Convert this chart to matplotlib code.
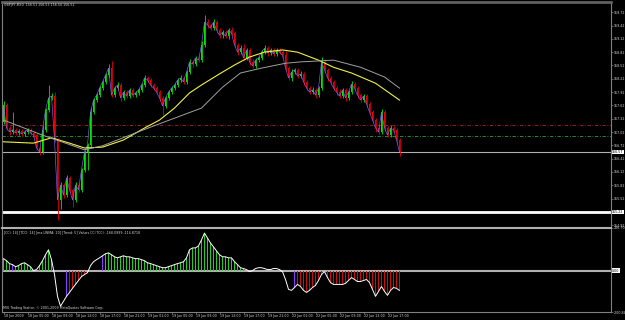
import numpy as np
import matplotlib.pyplot as plt
import matplotlib.transforms as mtransforms

# --- chart data (GBPJPY M30) ---
first_open = 157.25
closes = [
    157.63, 157.11, 157.02, 157.07, 157.00, 157.04, 156.98, 157.02, 157.07, 157.00,
    156.95, 156.66, 156.57, 157.07, 157.52, 157.79, 157.83, 156.84, 155.49, 155.83,
    155.60, 155.99, 155.72, 155.49, 155.83, 155.72, 156.17, 156.57, 156.73, 157.47,
    157.74, 157.85, 158.01, 158.15, 158.30, 158.46, 157.85, 158.01, 158.08, 157.79,
    157.92, 157.83, 157.97, 157.85, 157.90, 157.97, 158.08, 158.24, 158.19, 158.08,
    158.01, 157.92, 157.79, 157.61, 157.79, 157.92, 158.01, 158.08, 158.19, 158.24,
    158.15, 158.37, 158.60, 158.55, 158.69, 158.64, 158.98, 159.50, 159.43, 159.36,
    159.50, 159.32, 159.20, 159.27, 159.18, 159.32, 159.25, 158.98, 158.82, 158.91,
    158.69, 158.87, 158.60, 158.51, 158.64, 158.69, 158.82, 158.91, 158.80, 158.87,
    158.78, 158.87, 158.82, 158.75, 158.46, 158.24, 158.37, 158.42, 158.28, 158.33,
    158.15, 158.01, 157.92, 157.97, 157.85, 158.01, 158.60, 158.42, 158.24, 158.15,
    158.01, 157.92, 157.83, 157.97, 157.79, 157.92, 158.10, 158.01, 157.85, 157.74,
    157.83, 157.65, 157.47, 157.29, 157.11, 157.02, 157.47, 157.11, 156.95, 157.11,
    157.07, 156.84, 156.57,
]
wick_up = [
    0.08, 0.05, 0.04, 0.40, 0.05, 0.04, 0.05, 0.04, 0.05, 0.04,
    0.04, 0.05, 0.04, 0.10, 0.05, 0.30, 0.06, 0.10, 0.05, 0.06,
    0.05, 0.06, 0.05, 0.05, 0.06, 0.05, 0.05, 0.04, 0.05, 0.10,
    0.05, 0.04, 0.05, 0.04, 0.05, 0.10, 0.15, 0.05, 0.06, 0.05,
    0.04, 0.05, 0.05, 0.04, 0.05, 0.04, 0.05, 0.06, 0.05, 0.04,
    0.05, 0.04, 0.05, 0.05, 0.04, 0.05, 0.04, 0.05, 0.05, 0.06,
    0.05, 0.05, 0.06, 0.05, 0.05, 0.06, 0.08, 0.15, 0.06, 0.05,
    0.06, 0.05, 0.05, 0.06, 0.05, 0.05, 0.06, 0.05, 0.05, 0.06,
    0.10, 0.05, 0.05, 0.06, 0.05, 0.05, 0.05, 0.06, 0.05, 0.05,
    0.05, 0.05, 0.05, 0.05, 0.10, 0.05, 0.06, 0.05, 0.05, 0.06,
    0.05, 0.05, 0.05, 0.06, 0.05, 0.05, 0.10, 0.06, 0.05, 0.05,
    0.05, 0.05, 0.06, 0.05, 0.05, 0.05, 0.06, 0.05, 0.05, 0.05,
    0.05, 0.05, 0.05, 0.05, 0.05, 0.05, 0.08, 0.05, 0.05, 0.06,
    0.05, 0.05, 0.05,
]
wick_dn = [
    0.05, 0.05, 0.06, 0.05, 0.05, 0.04, 0.05, 0.05, 0.04, 0.05,
    0.05, 0.05, 0.06, 0.05, 0.04, 0.05, 0.05, 0.05, 0.45, 0.20,
    0.06, 0.05, 0.06, 0.15, 0.05, 0.06, 0.05, 0.05, 0.40, 0.05,
    0.05, 0.04, 0.05, 0.05, 0.04, 0.05, 0.05, 0.04, 0.05, 0.06,
    0.05, 0.05, 0.04, 0.05, 0.05, 0.04, 0.05, 0.05, 0.04, 0.05,
    0.05, 0.05, 0.06, 0.20, 0.05, 0.04, 0.05, 0.05, 0.04, 0.05,
    0.05, 0.05, 0.05, 0.06, 0.05, 0.05, 0.05, 0.05, 0.06, 0.05,
    0.05, 0.06, 0.05, 0.05, 0.05, 0.06, 0.05, 0.05, 0.06, 0.05,
    0.05, 0.05, 0.06, 0.05, 0.05, 0.05, 0.05, 0.05, 0.06, 0.05,
    0.05, 0.05, 0.05, 0.06, 0.05, 0.05, 0.06, 0.05, 0.05, 0.05,
    0.06, 0.05, 0.05, 0.05, 0.06, 0.05, 0.05, 0.05, 0.06, 0.05,
    0.05, 0.06, 0.05, 0.05, 0.06, 0.05, 0.05, 0.05, 0.06, 0.05,
    0.05, 0.06, 0.05, 0.05, 0.10, 0.05, 0.05, 0.06, 0.05, 0.05,
    0.05, 0.10, 0.10,
]

# moving averages, sampled at some bars
yellow_bar = [0, 10, 16, 22, 27, 33, 40, 47, 52, 57, 62, 66, 72, 77, 82, 87, 93, 98, 105, 110, 116, 124, 132]
yellow_val = [156.80, 156.77, 156.89, 156.77, 156.66, 156.68, 156.84, 157.11, 157.29, 157.56, 157.90, 158.08,
              158.33, 158.53, 158.71, 158.82, 158.87, 158.82, 158.64, 158.48, 158.35, 158.12, 157.74]
grey_bar = [0, 13, 27, 33, 49, 66, 73, 79, 86, 94, 99, 110, 119, 127, 132]
grey_val = [157.29, 156.95, 156.62, 156.71, 157.13, 157.56, 158.03, 158.35, 158.46, 158.57, 158.60, 158.64,
            158.48, 158.26, 158.01]

# horizontal lines
red_level = 157.18
green_level = 156.93
white_level = 155.22

price_ticks = [159.72, 159.42, 159.12, 158.82, 158.52, 158.22, 157.92, 157.62, 157.32, 157.02,
               156.72, 156.42, 156.12, 155.82, 155.52, 154.92]
price_lim = (154.88, 159.95)

# CCI indicator
cci = [
    58, 48, 34, 29, 19, 24, 34, 38, 29, 19,
    0, 5, 24, 48, 77, 101, 53, -19, -125, -173,
    -149, -125, -106, -86, -67, -48, -29, -19, -10, 24,
    43, 53, 62, 72, 82, 86, 77, 67, 62, 67,
    72, 67, 67, 62, 58, 58, 53, 48, 38, 34,
    29, 24, 19, 14, 14, 19, 24, 29, 34, 38,
    43, 62, 101, 110, 110, 120, 149, 182, 158, 134,
    115, 96, 77, 67, 67, 62, 62, 43, 29, 14,
    10, 5, -5, 0, 10, 14, 14, 10, 5, 5,
    10, 10, 5, -5, -43, -91, -96, -82, -67, -77,
    -96, -106, -96, -82, -72, -48, -19, -5, -34, -58,
    -67, -67, -67, -67, -62, -48, -34, -43, -53, -53,
    -48, -43, -58, -91, -125, -101, -77, -101, -120, -96,
    -82, -86, -96,
]
# histogram colour runs: g = up trend, r = down trend, p = trend change, '' = none
hist_runs = [('g', 3), ('p', 1), ('g', 6), ('', 2), ('g', 5), ('', 4), ('p', 1), ('r', 6),
             ('', 5), ('p', 1), ('g', 47), ('', 16), ('p', 1), ('r', 35)]
cci_lim = (-200.84, 206.70)

time_labels = ["18 Jun 2009", "18 Jun 05:00", "18 Jun 09:00", "18 Jun 13:00", "18 Jun 17:00",
               "18 Jun 21:00", "19 Jun 01:00", "19 Jun 05:00", "19 Jun 09:00", "19 Jun 13:00",
               "19 Jun 17:00", "19 Jun 21:00", "22 Jun 01:00", "22 Jun 05:00", "22 Jun 09:00",
               "22 Jun 13:00", "22 Jun 17:00"]
bars_per_label = 8

title_text = "GBPJPY,M30  156.51 156.53 156.50 156.52"
ind_text = "[CCI: 14] [TCCI: 14] [ma LWMA: 20] [Trend: 5] Values CCI TCCI: -168.0999 -114.8718"
copy_text = "MIG Trading Station, \u00a9 2001-2009 MetaQuotes Software Corp."

# --- figure ---
W, H = 625, 320
FS = 2.3
TXT = '#d8d8d8'
GRID = '#808080'

fig = plt.figure(figsize=(W / 100, H / 100), dpi=100, facecolor='black')


def px_rect(x0, y0, x1, y1):
    return [x0 / W, 1 - y1 / H, (x1 - x0) / W, (y1 - y0) / H]


ax = fig.add_axes(px_rect(2, 2, 611, 227))
ax2 = fig.add_axes(px_rect(2, 228, 611, 312))
n = len(closes)
xlim = (-0.5, -0.5 + 609 / 3)

for a in (ax, ax2):
    a.set_facecolor('black')
    a.set_xlim(*xlim)
    for s in a.spines.values():
        s.set_color(GRID)
        s.set_linewidth(0.8)

ax.spines['top'].set_linewidth(2)
ax.spines['top'].set_color('#606060')
ax.spines['bottom'].set_visible(False)
ax2.spines['top'].set_color('#b0b0b0')
ax2.spines['top'].set_linewidth(1.5)

# candles
idx = np.arange(n)
c = np.array(closes)
o = np.array([first_open] + closes[:-1])
hi = np.maximum(o, c) + np.array(wick_up)
lo = np.minimum(o, c) - np.array(wick_dn)
up = c >= o
cols = np.where(up, '#00e600', '#e60000')
ax.vlines(idx, lo, hi, colors=cols, lw=0.6, zorder=3)
body = np.maximum(np.abs(c - o), 0.015)
ax.bar(idx, body, bottom=np.minimum(o, c), width=0.62, color=cols, lw=0, zorder=3)

# MAs
ax.plot(idx, closes, color='#8c5cff', lw=0.45, zorder=4)
ax.plot(yellow_bar, yellow_val, color='#f0f040', lw=0.8, zorder=4)
ax.plot(grey_bar, grey_val, color='#a0a0a0', lw=0.7, zorder=4)

# levels
ax.axhline(red_level, color='#b02020', lw=0.6, ls=(0, (4, 2, 1, 2)), zorder=2)
ax.axhline(green_level, color='#30a030', lw=0.6, ls=(0, (4, 2, 1, 2)), zorder=2)
ax.axhline(closes[-1], color='#b0b0b0', lw=0.8, zorder=2)
ax.axhline(white_level, color='white', lw=2, zorder=2)

ax.set_ylim(*price_lim)
ax.yaxis.tick_right()
ax.set_yticks(price_ticks)
ax.set_yticklabels([f"{v:.2f}" for v in price_ticks])
ax.tick_params(axis='y', labelsize=FS, labelcolor=TXT, color=GRID, length=1.2, width=0.5, pad=0.5)
ax.set_xticks([])

blend = mtransforms.blended_transform_factory(ax.transAxes, ax.transData)
for v in (closes[-1], white_level):
    ax.text(1.0015, v, f"{v:.2f}", transform=blend, fontsize=FS, color='black', va='center', ha='left',
            bbox=dict(boxstyle='square,pad=0.1', fc='white', ec='none'), clip_on=False)

# indicator
hist_col = {'g': '#20d020', 'r': '#c81010', 'p': '#8a3cff'}
states = []
for s, k in hist_runs:
    states += [s] * k
hx = [i for i in range(n) if states[i]]
ax2.bar(hx, [cci[i] for i in hx], width=0.6, color=[hist_col[states[i]] for i in hx], lw=0, zorder=2)
ax2.plot(idx, cci, color='white', lw=0.7, zorder=3)
ax2.axhline(0, color='#b0b0b0', lw=1.5, zorder=1)
ax2.set_ylim(*cci_lim)
ax2.yaxis.tick_right()
ax2.set_yticks(list(cci_lim))
ax2.set_yticklabels([f"{v:.2f}" for v in cci_lim])
ax2.tick_params(axis='y', labelsize=FS, labelcolor=TXT, color=GRID, length=1.2, width=0.5, pad=0.5)
blend2 = mtransforms.blended_transform_factory(ax2.transAxes, ax2.transData)
ax2.text(1.0015, 0, "0.00", transform=blend2, fontsize=FS, color='black', va='center', ha='left',
         bbox=dict(boxstyle='square,pad=0.1', fc='white', ec='none'), clip_on=False)

tick_pos = [i * bars_per_label for i in range(len(time_labels))]
ax2.set_xticks(tick_pos)
ax2.set_xticklabels(time_labels, ha='left')
ax2.tick_params(axis='x', labelsize=FS, labelcolor=TXT, color=GRID, length=1.2, width=0.5, pad=0.5)

fig.text(4 / W, 1 - 5 / H, title_text, fontsize=FS, color=TXT, va='center', ha='left')
fig.text(4 / W, 1 - 232 / H, ind_text, fontsize=FS, color=TXT, va='center', ha='left')
fig.text(3 / W, 1 - 308 / H, copy_text, fontsize=FS, color=TXT, va='center', ha='left')

fig.savefig('out.png', dpi=100, facecolor='black')
